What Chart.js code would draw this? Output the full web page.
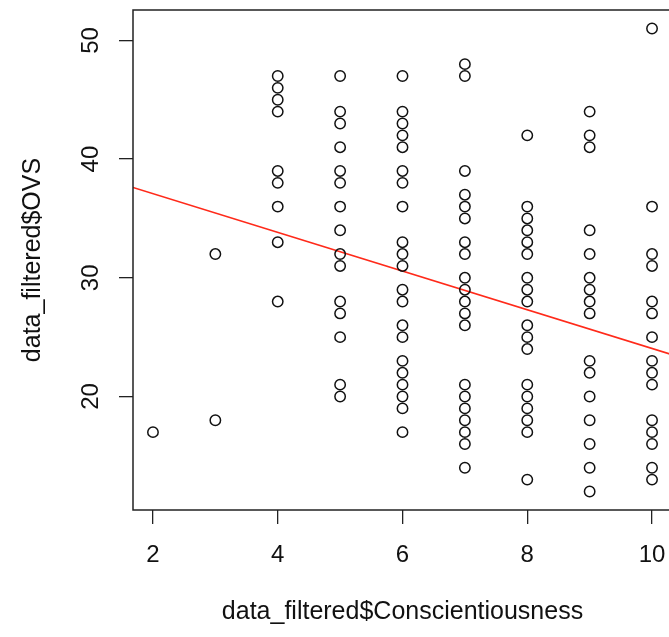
<!DOCTYPE html>
<html>
<head>
<meta charset="utf-8">
<script src="https://cdn.jsdelivr.net/npm/chart.js@4"></script>
<style>
  body { margin: 0; overflow: hidden; background: #fff; }
</style>
</head>
<body>
<canvas id="myChart" width="672" height="637"></canvas>
<script>
// OVS values seen at each Conscientiousness level
var consLevels = [2, 3, 4, 5, 6, 7, 8, 9, 10];
var ovs2 = [17];
var ovs3 = [32, 18];
var ovs4 = [47, 46, 45, 44, 39, 38, 36, 33, 28];
var ovs5 = [47, 44, 43, 41, 39, 38, 36, 34, 32, 31, 28, 27, 25, 21, 20];
var ovs6 = [47, 44, 43, 42, 41, 39, 38, 36, 33, 32, 31, 29, 28, 26, 25, 23, 22, 21, 20, 19, 17];
var ovs7 = [48, 47, 39, 37, 36, 35, 33, 32, 30, 29, 28, 27, 26, 21, 20, 19, 18, 17, 16, 14];
var ovs8 = [42, 36, 35, 34, 33, 32, 30, 29, 28, 26, 25, 24, 21, 20, 19, 18, 17, 13];
var ovs9 = [44, 42, 41, 34, 32, 30, 29, 28, 27, 23, 22, 20, 18, 16, 14, 12];
var ovs10 = [51, 36, 32, 31, 28, 27, 25, 23, 22, 21, 18, 17, 16, 14, 13];
var ovsByLevel = [ovs2, ovs3, ovs4, ovs5, ovs6, ovs7, ovs8, ovs9, ovs10];

// regression line (abline of lm)
var fitIntercept = 40.35;
var fitSlope = -1.63;
var xRange = [1.68, 10.32];
var yRange = [10.44, 52.56];
var xTicks = [2, 4, 6, 8, 10];
var yTicks = [20, 30, 40, 50];

var points = [];
for (var i = 0; i < consLevels.length; i++) {
  ovsByLevel[i].forEach(function(v) {
    points.push({x: consLevels[i], y: v});
  });
}
var fitLine = xRange.map(function(x) {
  return {x: x, y: fitIntercept + fitSlope * x};
});

var boxPlugin = {
  id: 'box',
  afterDraw: function(chart) {
    var a = chart.chartArea, c = chart.ctx;
    c.save();
    c.strokeStyle = '#222';
    c.lineWidth = 1.5;
    c.strokeRect(a.left, a.top, a.right - a.left, a.bottom - a.top);
    c.restore();
  }
};

var font = {family: "'Liberation Sans', Arial, sans-serif", size: 24};
var titleFont = {family: "'Liberation Sans', Arial, sans-serif", size: 25};

var ctx = document.getElementById('myChart').getContext('2d');
var myChart = new Chart(ctx, {
  type: 'scatter',
  data: {
    datasets: [{
      label: 'points',
      data: points,
      pointStyle: 'circle',
      pointRadius: 5.2,
      pointBorderWidth: 1.5,
      borderColor: '#111',
      backgroundColor: 'rgba(0,0,0,0)'
    }, {
      type: 'line',
      label: 'fit',
      data: fitLine,
      borderColor: '#ff2a1a',
      borderWidth: 1.6,
      pointRadius: 0,
      fill: false
    }]
  },
  options: {
    responsive: false,
    animation: false,
    // canvas is 3px wider than the window: the plot box runs past the right edge
    layout: {autoPadding: false, padding: {top: 10, right: 0, left: 0, bottom: 0}},
    plugins: {legend: {display: false}, tooltip: {enabled: false}},
    scales: {
      x: {
        type: 'linear',
        min: xRange[0],
        max: xRange[1],
        afterBuildTicks: function(s) { s.ticks = xTicks.map(function(v) { return {value: v}; }); },
        afterFit: function(s) { s.height = 127; s.paddingLeft = 0; s.paddingRight = 0; },
        border: {display: false},
        grid: {drawOnChartArea: false, drawTicks: true, tickLength: 14, color: '#222', lineWidth: 1.3},
        ticks: {color: '#111', font: font, padding: 17, maxRotation: 0},
        title: {display: true, text: 'data_filtered$Conscientiousness', color: '#111', font: titleFont, padding: {bottom: 10}}
      },
      y: {
        type: 'linear',
        min: yRange[0],
        max: yRange[1],
        afterBuildTicks: function(s) { s.ticks = yTicks.map(function(v) { return {value: v}; }); },
        afterFit: function(s) { s.width = 133; s.paddingTop = 0; s.paddingBottom = 0; },
        border: {display: false},
        grid: {drawOnChartArea: false, drawTicks: true, tickLength: 14, color: '#222', lineWidth: 1.3},
        ticks: {color: '#111', font: font, padding: 14, minRotation: 90, maxRotation: 90, crossAlign: 'center'},
        title: {display: true, text: 'data_filtered$OVS', color: '#111', font: titleFont, padding: {top: 18}}
      }
    }
  },
  plugins: [boxPlugin]
});
</script>
</body>
</html>
